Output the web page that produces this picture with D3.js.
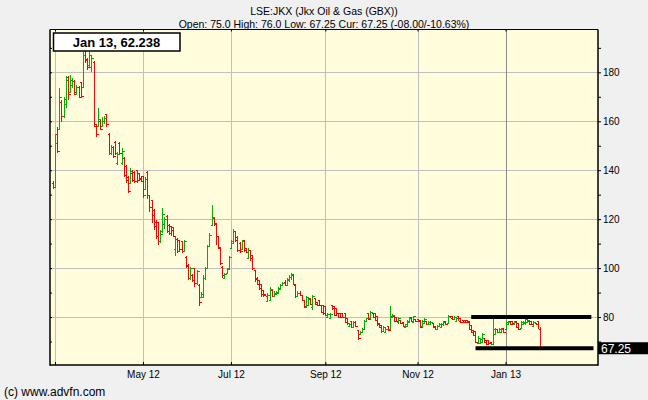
<!DOCTYPE html>
<html><head><meta charset="utf-8">
<script src="https://cdn.jsdelivr.net/npm/d3@7"></script>
<style>
body{margin:0;background:#f0f0f0;}
svg{display:block;font-family:"Liberation Sans",Arial,sans-serif;}
</style>
</head><body>
<svg id="chart" width="648" height="400"></svg>
<script>
// ---------- DATA ----------
const firstDay = -1; // trading-day index of first bar (day 0 = 1 Mar 2012)
const opens = [134.8,133,155,157,168,162,167,178,172,175,176.5,171,174,176,174,189,185.5,183,182,184.4,158,158,160,158,160,162.8,155,147,149.6,151.6,143,151,143,145,141.8,137.3,134.6,139,139.3,140,138.7,137,137.5,132.5,139.3,130,127.9,123.8,119,119,111,115,118,121.1,117.7,117,116.7,108,112,111.5,111,107,104.7,101.3,96,97.2,99.9,94,93.1,88.3,88,96,100,109,117.5,120.4,118.3,113,108.1,100.6,96,98,100,108.1,110.1,115,112.9,110.4,108,111.5,108.1,104,107.5,105.4,99.2,96,95.1,93.5,91,89.5,86.5,87,91,88.5,89.5,90,91.5,93,94.5,93,95,96.5,97,93,88.5,90,89,87.1,84,85,87.8,84,87.8,86,87,85,85,84.4,80,79.6,85,84.4,83.7,81.6,81.6,81.6,81.6,79.6,76.5,78.3,76,78,74.8,73,74,75,78.2,81.6,79.6,81.6,81.6,80.3,77.5,76.9,74.2,74,76.2,75,80,80.6,79.9,78,78.6,77.9,76,76.5,78,79.9,78,79.2,79.2,78.9,76.5,77.5,78.2,77,77.3,77.5,76.2,75,76.5,76,77,78.2,77.5,80.3,80.3,79,78.5,80.3,79.6,78.9,78.9,78.9,78.2,76.9,74.8,74.1,69.5,69.5,70,71.4,70.7,70.7,70,69,73,75.1,74,73.8,75.5,75,77,78.2,78.2,77,78.2,77.5,75.5,77,77.5,78,78.2,78.2,76.5,77.5,78.2,75];
const highs = [135.5,155,157.8,173.5,168.5,170,178.5,178.5,179,177.5,177,174.8,174.5,176.2,188.5,189.5,186,188.5,187.1,184.5,158.4,165.3,160.5,161.9,162,163,155.3,150.3,150,152,147.5,151.6,148.9,145.5,142,137.5,140.7,140,139.5,140.2,139,137.5,137.8,137.3,139.5,130,128,124,119.5,119,115.6,124.5,121,121.5,118,117.2,116.9,112.9,112.3,111.6,111,111.6,105,101.5,100.6,97.5,100,99.3,93.3,90.3,97.2,100.6,109.4,114.2,125.8,120.4,118.5,113,108.3,100.8,98,99.9,105,111.5,115.9,115,113,110.5,111.5,111.5,108.1,108.1,107.5,105.5,99.3,96.5,95.1,93.7,91,89.5,89.9,92.4,91,90.5,90.5,92.4,93.5,94.4,95,95.8,97,97.9,97.5,93.1,90.5,90.5,89,87.1,88.5,87.8,87.8,89.1,87.8,86.2,87.1,85,85,84.4,81.6,81.6,85,84.4,83.7,81.6,81.6,81.6,81.6,79.6,77.5,78.3,78.3,78.3,74.8,74.1,75.5,78.9,79.6,81.6,82.3,81.6,81.6,80.3,77.5,76.9,76.2,75.5,76.2,84.4,81.3,80.6,79.9,79.9,78.6,77.9,77.2,78.6,79.9,79.9,80.6,79.2,79.2,78.9,78.9,79.6,78.2,78.2,78.2,77.5,76.2,76.9,77.5,77.5,78.2,78.2,81,80.3,80.3,80.3,80,80.3,79.6,78.9,78.9,78.9,78.2,76.9,74.8,74.1,72.1,71.4,73.5,71.4,70.7,70.7,70,79.6,75.5,75.1,75.5,75.5,75.5,78.2,78.2,78.2,78.2,78.2,78.2,77.5,78.2,78.2,79.6,78.9,78.2,78.2,78.2,77.5,78.2,76];
const lows = [132.5,132.8,147,156.4,159.8,161.2,165.3,168.7,171.4,173.5,170.7,170.7,169.4,169.4,174,183.7,181,182.3,180.3,157.8,153.7,157.8,156.4,157.8,159,157.8,146.2,146.2,145.1,146.2,142.1,146.2,142.1,137.3,134.6,130.5,134.6,135,134.6,134.6,135.9,135,128.6,132.5,128.4,123,118.4,115.6,112,109.5,110.2,114.3,116,114.3,113.6,113,112.6,105,106,107,106,107,99.9,95.1,95.1,94.4,92.4,93,84.6,88,88,95.1,99.9,108.8,117,117,109.5,108,101.3,95.8,95.7,97.9,99.9,108.1,110.1,110.8,106.7,106,108,106.7,106,104,103,99.2,94.4,93,91,88,88.3,88.5,86.2,87,88.3,88.3,89.5,89.9,91,92.5,92.5,92.8,94.4,95,93,87.8,88.5,88.5,86.5,83.7,83.7,85,85,83,85,84.5,84.6,81.6,80.9,80.3,79.6,79.2,83,80.3,81,79.6,79.6,79.6,77.5,76.9,76.2,75.5,76,76,70.7,72.8,73.5,74.8,78.2,78.9,79.6,79.6,78.2,76.2,75.5,73.5,74.2,73.5,74.1,74.8,79.9,77.9,77.9,77.3,77.3,75.9,75.9,76.5,77.9,77.9,78,77.9,77.9,75.5,76.5,77.5,76.9,76.9,77.3,75.5,74.5,74.8,76.2,75.5,76.2,76.9,77.5,79.6,78.9,78.9,78.2,78.2,77.5,77.5,77.5,77.5,74.8,73.5,72.1,69.4,69.4,69.4,69.4,69.4,68.7,68.7,68.7,68.7,72.8,73.5,74,73.5,73.5,74.8,76.9,76.9,77.2,76.9,75.5,74.8,75.5,76.9,76.9,77.5,76.9,76.9,76.2,76.9,75.2,67.25];
const closes = [133,151,148,170,162,169,177,171,177,176.5,172,174,170,170.5,187,185,182,187,186,159,155,161,157,160,161.5,159,147,149.5,146,147,146.5,147,148,138,136,131.5,139.5,136,135.5,136,136.5,135.5,130,136.5,130,125,121.6,117,113,111,114,122,120,115,114.5,115.6,113,112,107,108,107,111,101,96,100,95,94,99,86,89.5,96,100,109,113.5,121,118,113,108.5,102,97,97.5,99.5,104.5,111,115,111.5,107.5,107,111,107.5,106.5,107.5,104,100,95.5,93.5,92,89.5,89,88.8,89,91.5,88.8,90,90.3,92,93,94,93,95.5,96.5,97.5,93.5,88.5,90,89,87,84.5,88,87.5,85.5,88.5,85.5,85,85,82,81.5,81,81.2,81.3,83.5,81,81.6,80,80,80,78,77.5,77.3,76,78,76.5,71.5,74,75.3,78.5,79.5,79.2,82,80,78.8,77,76,74.2,76,75.3,74.5,80.5,81,78.5,78.2,79.5,77.6,76.3,77,78.3,79.6,78.2,80.3,78.2,78.5,76,78.5,79.2,77.2,78,78,76,75,76.5,77.3,77.2,78,77.2,80.5,79.7,79.2,80,79.8,78.5,78,78,77.8,77.8,75.3,74,72.5,70,71.5,71,73,69.8,69,69.2,69,75,75.3,74,75.2,75.3,74,78,78,77.2,77.5,78,76,75.3,78,78,79.3,78.7,77.2,77.3,78,77,75.25,67.25];

const monthTickDays = [0, 41, 82, 126, 169, 210];
const monthTickLabels = ["", "May 12", "Jul 12", "Sep 12", "Nov 12", "Jan 13"];
const yearStartDay = 210;
const priceGrid = [80, 100, 120, 140, 160, 180];
const priceMinor = [70, 80, 90, 100, 110, 120, 130, 140, 150, 160, 170, 180, 190];
const trendFrom = [194, 196];
const trendTo = [250, 251];
const trendValue = [80, 67.25];

const titleText = "LSE:JKX (Jkx Oil & Gas (GBX))";
const subtitleText = "Open: 75.0 High: 76.0 Low: 67.25 Cur: 67.25 (-08.00/-10.63%)";
const legendText = "Jan 13, 62.238";
const currentPrice = 67.25;
const footerText = "(c) www.advfn.com";

// ---------- LAYOUT ----------
const L = 50, R = 598, T = 29.5, B = 365;
const svg = d3.select("#chart");
const x = d3.scaleLinear().domain([-2.33, 253.1]).range([L, R]);
const y = d3.scaleLinear().domain([60.4, 197.5]).range([B, T]);
const px = v => Math.round(v) + 0.5;

svg.append("rect").attr("width", 648).attr("height", 400).attr("fill", "#f0f0f0");
svg.append("rect").attr("x", L).attr("y", T).attr("width", R - L).attr("height", B - T).attr("fill", "#fffddc");

// grid
const grid = svg.append("g");
grid.selectAll("line.h").data(priceGrid).join("line")
  .attr("x1", L).attr("x2", R).attr("y1", d => px(y(d))).attr("y2", d => px(y(d)))
  .attr("stroke", "#c0c0c0").attr("stroke-width", 1);
grid.selectAll("line.v").data(monthTickDays).join("line")
  .attr("x1", d => px(x(d))).attr("x2", d => px(x(d))).attr("y1", T).attr("y2", B)
  .attr("stroke", d => d === yearStartDay ? "#8c8c80" : "#c0c0c0").attr("stroke-width", 1);

// OHLC bars
const bars = svg.append("g");
closes.forEach((c, i) => {
  const d = firstDay + i;
  const cx = px(x(d));
  const col = c >= opens[i] ? "#00b000" : "#ff0000";
  const g = bars.append("g").attr("stroke", col).attr("stroke-width", 1).attr("shape-rendering", "crispEdges");
  g.append("line").attr("x1", cx).attr("x2", cx).attr("y1", y(highs[i])).attr("y2", y(lows[i]));
  g.append("line").attr("x1", cx - 2).attr("x2", cx).attr("y1", px(y(opens[i]))).attr("y2", px(y(opens[i])));
  g.append("line").attr("x1", cx).attr("x2", cx + 2).attr("y1", px(y(c))).attr("y2", px(y(c)));
});

// trend lines
svg.append("g").selectAll("line").data(trendValue).join("line")
  .attr("x1", (d, i) => x(trendFrom[i])).attr("x2", (d, i) => x(trendTo[i]))
  .attr("y1", d => y(d)).attr("y2", d => y(d))
  .attr("stroke", "#000").attr("stroke-width", 4);

// axes
const xAxis = d3.axisBottom(x).tickValues(monthTickDays).tickSize(-3).tickPadding(6)
  .tickFormat((d, i) => monthTickLabels[i]);
const gx = svg.append("g").attr("transform", `translate(0,${B})`).call(xAxis);
gx.select(".domain").remove();
gx.selectAll(".tick line").attr("stroke", "#000");
gx.selectAll("text").attr("font-size", 10).attr("fill", "#000").attr("font-family", "Liberation Sans, Arial, sans-serif").attr("dy", "0.71em");

const xTop = d3.axisTop(x).tickValues(monthTickDays).tickSize(-2).tickFormat("");
const gxt = svg.append("g").attr("transform", `translate(0,${T})`).call(xTop);
gxt.select(".domain").remove();
gxt.selectAll(".tick line").attr("stroke", "#000");

const yRight = d3.axisRight(y).tickValues(priceMinor).tickSize(3).tickPadding(2)
  .tickFormat(d => priceGrid.includes(d) ? d : "");
const gy = svg.append("g").attr("transform", `translate(${R},0)`).call(yRight);
gy.select(".domain").remove();
gy.selectAll(".tick line").attr("stroke", "#000");
gy.selectAll("text").attr("font-size", 10).attr("fill", "#000").attr("font-family", "Liberation Sans, Arial, sans-serif");

const yLeft = d3.axisLeft(y).tickValues(priceMinor).tickSize(-2).tickFormat("");
const gyl = svg.append("g").attr("transform", `translate(${L},0)`).call(yLeft);
gyl.select(".domain").remove();
gyl.selectAll(".tick line").attr("stroke", "#000");

// frame
const frame = svg.append("g").attr("stroke", "#000").attr("stroke-width", 1.5).attr("fill", "none");
frame.append("line").attr("x1", L).attr("x2", L).attr("y1", T).attr("y2", B + 0.75);
frame.append("line").attr("x1", R).attr("x2", R).attr("y1", T).attr("y2", B + 0.75);
frame.append("line").attr("x1", L).attr("x2", R).attr("y1", B).attr("y2", B);
frame.append("line").attr("x1", L).attr("x2", R).attr("y1", T).attr("y2", T).attr("stroke-width", 1);

// current price tag
const yc = y(currentPrice);
svg.append("rect").attr("x", R).attr("y", yc - 6).attr("width", 648 - R).attr("height", 12).attr("fill", "#000");
svg.append("text").attr("x", R + 3).attr("y", yc + 4.5).attr("fill", "#fff").attr("font-size", 12).text(currentPrice.toFixed(2));

// legend box
svg.append("rect").attr("x", 53.5).attr("y", 33).attr("width", 126.5).attr("height", 18)
  .attr("fill", "#fff").attr("stroke", "#000").attr("stroke-width", 1.5);
svg.append("text").attr("x", 116.5).attr("y", 46.5).attr("text-anchor", "middle")
  .attr("font-size", 13).attr("font-weight", "bold").attr("fill", "#000").text(legendText);

// titles
svg.append("text").attr("x", 324).attr("y", 15).attr("text-anchor", "middle").attr("font-size", 10.5).attr("fill", "#000").text(titleText);
svg.append("text").attr("x", 324).attr("y", 27.5).attr("text-anchor", "middle").attr("font-size", 10.5).attr("fill", "#000").text(subtitleText);
svg.append("text").attr("x", 4).attr("y", 396).attr("font-size", 12).attr("fill", "#000").text(footerText);
</script>
</body></html>
